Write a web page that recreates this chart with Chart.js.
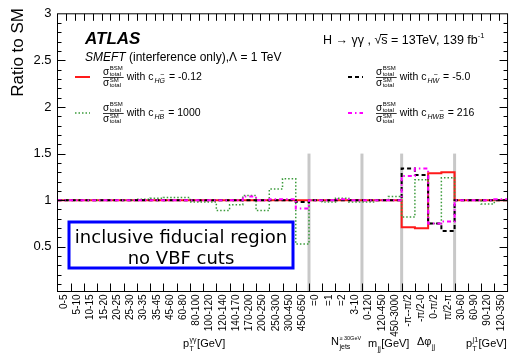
<!DOCTYPE html>
<html>
<head>
<meta charset="utf-8">
<script src="https://cdn.jsdelivr.net/npm/chart.js@4.4.0/dist/chart.umd.min.js"></script>
<style>
  html, body { margin: 0; padding: 0; background: #fff; }
  #wrap { width: 516px; height: 354px; }
</style>
</head>
<body>
<div id="wrap"><canvas id="ratio" width="516" height="354"></canvas></div>
<script>
// bins of the five observables, in plotting order
const binLabels = [
  '0-5', '5-10', '10-15', '15-20', '20-25', '25-30', '30-35', '35-45', '45-60', '60-80',
  '80-100', '100-120', '120-140', '140-170', '170-200', '200-250', '250-300', '300-450', '450-650',
  '=0', '=1', '=2', '3-10',
  '0-120', '120-450', '450-3000',
  '-π--π/2', '-π/2-0', '0-π/2', 'π/2-π',
  '30-60', '60-90', '90-120', '120-350'
];
// bin index where each new observable starts
const groupEdges = [19, 23, 26, 30];
const groupLineTop = 1.5;

// sigma_BSM / sigma_SM per bin
const ratioHG  = [1.00, 1.00, 1.00, 1.00, 1.00, 1.00, 1.00, 1.00, 1.00, 1.00,
                  1.00, 1.00, 1.00, 1.00, 1.00, 1.00, 1.00, 1.00, 1.00,
                  1.00, 1.00, 1.00, 1.00,
                  1.00, 1.00, 1.00,
                  0.71, 0.70, 1.29, 1.30,
                  1.00, 1.00, 1.00, 1.00];
const ratioHB  = [1.00, 1.00, 1.00, 1.00, 1.00, 1.00, 1.01, 1.02, 1.03, 1.03,
                  0.98, 0.98, 0.89, 0.95, 1.05, 0.89, 1.12, 1.23, 0.53,
                  1.00, 0.98, 1.02, 0.98,
                  0.98, 1.00, 1.04,
                  0.82, 1.22, 0.75, 1.24,
                  1.00, 1.00, 0.96, 1.00];
const ratioHW  = [1.00, 1.00, 1.00, 1.00, 1.00, 1.00, 1.00, 1.00, 1.00, 1.00,
                  1.00, 1.00, 1.00, 1.00, 1.00, 1.00, 1.00, 1.00, 0.98,
                  1.00, 1.00, 1.00, 1.00,
                  1.00, 1.00, 1.00,
                  1.34, 1.27, 0.75, 0.67,
                  1.00, 1.00, 1.00, 1.00];
const ratioHWB = [1.00, 1.00, 1.00, 1.00, 1.00, 1.00, 1.00, 1.00, 1.00, 1.00,
                  1.00, 1.00, 1.00, 1.00, 1.04, 1.00, 1.01, 1.01, 0.91,
                  1.00, 1.00, 1.01, 1.00,
                  1.00, 1.00, 1.00,
                  1.26, 1.34, 0.75, 0.77,
                  1.00, 1.00, 1.00, 1.01];

const yTicks = [0.5, 1, 1.5, 2, 2.5, 3];

const SANS = '"Liberation Sans", Arial, Helvetica, sans-serif';

// histogram outline: bin i spans [i, i+1]
const toSteps = vals => vals.map((v, i) => ({ x: i, y: v })).concat([{ x: vals.length, y: vals[vals.length - 1] }]);

const series = [
  { data: ratioHG,  color: '#ff1a1a', dash: [],             width: 2,   order: 4 },
  { data: ratioHB,  color: '#3a9a3a', dash: [1.5, 2],       width: 1.5, order: 3 },
  { data: ratioHW,  color: '#000000', dash: [4, 3],         width: 2,   order: 2 },
  { data: ratioHWB, color: '#ff00ff', dash: [4, 3, 1.5, 3], width: 2,   order: 1 },
];

function txt(ctx, s, x, y, size, o = {}) {
  ctx.font = `${o.italic ? 'italic ' : ''}${o.bold ? 'bold ' : ''}${size}px ${o.family || SANS}`;
  ctx.textAlign = o.align || 'left';
  ctx.textBaseline = 'alphabetic';
  ctx.fillStyle = o.color || '#000';
  ctx.fillText(s, x, y);
  return ctx.measureText(s).width;
}

// sigma_total^BSM / sigma_total^SM, bar at yb
function sigmaFrac(ctx, x, yb) {
  const w = txt(ctx, 'σ', x, yb - 2, 10);
  const w1 = txt(ctx, 'BSM', x + w + 0.5, yb - 7, 6);
  txt(ctx, 'total', x + w + 0.5, yb - 1.5, 6);
  txt(ctx, 'σ', x, yb + 8.5, 10);
  txt(ctx, 'SM', x + w + 0.5, yb + 4.5, 6);
  txt(ctx, 'total', x + w + 0.5, yb + 10, 6);
  const len = w + Math.max(w1, 12) + 1.5;
  ctx.strokeStyle = '#000'; ctx.lineWidth = 0.8;
  ctx.beginPath(); ctx.moveTo(x, yb + 0.5); ctx.lineTo(x + len, yb + 0.5); ctx.stroke();
  return len;
}

// "with c_{H...} = value", last subscript letter carries a tilde
function coeffText(ctx, x, y, sub, value) {
  let cx = x + txt(ctx, 'with c', x, y, 10.5);
  const head = sub.slice(0, -1), last = sub.slice(-1);
  cx += txt(ctx, head, cx + 1, y + 3, 7, { italic: true });
  const lw = txt(ctx, last, cx + 1, y + 3, 7, { italic: true });
  txt(ctx, '~', cx + 1 + lw / 2, y - 3, 7, { align: 'center' });
  cx += lw + 2;
  txt(ctx, ' = ' + value, cx, y, 10.5);
}

function legendRow(ctx, x, yb, color, dash, width, sub, value) {
  ctx.save();
  ctx.strokeStyle = color; ctx.lineWidth = width; ctx.setLineDash(dash);
  ctx.beginPath(); ctx.moveTo(x, yb); ctx.lineTo(x + 15, yb); ctx.stroke();
  ctx.restore();
  const fw = sigmaFrac(ctx, x + 28, yb);
  coeffText(ctx, x + 28 + fw + 3, yb + 3, sub, value);
}

// axis group titles: base, subscript, superscript, tail
function groupTitle(ctx, x, y, base, sub, sup, tail, supSize = 7) {
  let cx = x + txt(ctx, base, x, y, 11);
  const ws = sub ? txt(ctx, sub, cx + 0.5, y + 3.5, 7) : 0;
  const wp = sup ? txt(ctx, sup, cx + 0.5, y - 5, supSize) : 0;
  cx += Math.max(ws, wp) + 1;
  if (tail) txt(ctx, tail, cx, y, 11);
}

const decor = {
  id: 'decor',
  beforeDatasetsDraw(chart) {
    const { ctx, chartArea: a, scales: { x, y } } = chart;
    ctx.save();
    ctx.strokeStyle = '#c8c8c8'; ctx.lineWidth = 3;
    groupEdges.forEach(e => {
      const px = x.getPixelForValue(e);
      ctx.beginPath(); ctx.moveTo(px, y.getPixelForValue(groupLineTop)); ctx.lineTo(px, a.bottom); ctx.stroke();
    });
    ctx.restore();
  },
  afterDatasetsDraw(chart) {
    const { ctx, chartArea: a, scales: { x, y } } = chart;
    ctx.save();
    // frame
    ctx.strokeStyle = '#000'; ctx.lineWidth = 1;
    ctx.strokeRect(a.left, a.top, a.right - a.left, a.bottom - a.top);
    ctx.beginPath();
    // bottom ticks on bin edges
    for (let i = 1; i < binLabels.length; i++) {
      const px = Math.round(x.getPixelForValue(i)) + 0.5;
      ctx.moveTo(px, a.bottom); ctx.lineTo(px, a.bottom - 8);
    }
    // top ticks
    for (let k = 1; k < 51; k++) {
      const px = Math.round(a.left + k * (a.right - a.left) / 51) + 0.5;
      ctx.moveTo(px, a.top); ctx.lineTo(px, a.top + 7);
    }
    // left / right ticks
    for (let v = 0.1; v < 3; v += 0.1) {
      const major = Math.abs(v * 2 - Math.round(v * 2)) < 1e-6;
      const py = Math.round(y.getPixelForValue(v)) + 0.5;
      const l = major ? 8 : 4;
      ctx.moveTo(a.left, py); ctx.lineTo(a.left + l, py);
      ctx.moveTo(a.right, py); ctx.lineTo(a.right - l, py);
    }
    ctx.stroke();

    // region box
    ctx.fillStyle = '#fff';
    ctx.fillRect(69, 222, 224, 46);
    ctx.strokeStyle = '#0000ff'; ctx.lineWidth = 3;
    ctx.strokeRect(69, 222, 224, 46);
    txt(ctx, 'inclusive fiducial region', 181, 243, 18, { align: 'center', family: '"DejaVu Sans", sans-serif' });
    txt(ctx, 'no VBF cuts', 181, 264, 18, { align: 'center', family: '"DejaVu Sans", sans-serif' });

    // headers
    txt(ctx, 'ATLAS', 85, 44, 17, { bold: true, italic: true });
    const cx = 85 + txt(ctx, 'SMEFT', 85, 61, 12, { italic: true });
    txt(ctx, ' (interference only),Λ = 1 TeV', cx, 61, 12);
    const head = 'H → γγ , √s = 13TeV, 139 fb';
    const hw = txt(ctx, head, 323, 44, 12.5);
    txt(ctx, '-1', 323 + hw, 38, 7.5);
    ctx.font = `12.5px ${SANS}`;
    const sx = 323 + ctx.measureText('H → γγ , √').width;
    const sw = ctx.measureText('s').width;
    ctx.strokeStyle = '#000'; ctx.lineWidth = 1;
    ctx.beginPath(); ctx.moveTo(sx - 1, 34.5); ctx.lineTo(sx + sw, 34.5); ctx.stroke();

    // legend
    legendRow(ctx, 75, 77, series[0].color, series[0].dash, 2, 'HG', '-0.12');
    legendRow(ctx, 75, 113, series[1].color, series[1].dash, 1.5, 'HB', '1000');
    legendRow(ctx, 348, 77, series[2].color, series[2].dash, 2, 'HW', '-5.0');
    legendRow(ctx, 348, 113, series[3].color, series[3].dash, 2, 'HWB', '216');

    // observable titles under the bin labels
    groupTitle(ctx, 331, 345, 'N', 'jets', '≥ 30GeV', '', 5.5);
    groupTitle(ctx, 183, 347, 'p', 'T', 'γγ', '[GeV]');
    groupTitle(ctx, 368, 347, 'm', 'jj', '', '[GeV]');
    groupTitle(ctx, 417, 345, 'Δφ', 'jj', '', '');
    groupTitle(ctx, 466, 347, 'p', 'T', 'j1', '[GeV]');

    // y axis title
    ctx.translate(23, 8);
    ctx.rotate(-Math.PI / 2);
    txt(ctx, 'Ratio to SM', 0, 0, 17, { align: 'right' });
    ctx.restore();
  }
};

new Chart(document.getElementById('ratio'), {
  type: 'line',
  data: {
    datasets: series.map(s => ({
      data: toSteps(s.data),
      borderColor: s.color,
      borderWidth: s.width,
      borderDash: s.dash,
      stepped: true,
      pointRadius: 0,
      fill: false,
      order: s.order,
    })),
  },
  options: {
    responsive: false,
    animation: false,
    devicePixelRatio: 1,
    layout: { padding: { left: 0, right: 4.5, top: 10, bottom: 0 } },
    plugins: { legend: { display: false }, tooltip: { enabled: false } },
    scales: {
      x: {
        type: 'linear', min: 0, max: binLabels.length,
        grid: { display: false, drawTicks: false }, border: { display: false },
        afterBuildTicks: s => { s.ticks = binLabels.map((_, i) => ({ value: i + 0.5 })); },
        afterFit: s => { s.height = 62.5; },
        ticks: {
          autoSkip: false, minRotation: 90, maxRotation: 90, padding: 3,
          color: '#000', font: { family: SANS, size: 10 },
          callback: (v, i) => binLabels[i],
        },
      },
      y: {
        min: 0.02, max: 3,
        grid: { display: false, drawTicks: false }, border: { display: false },
        afterBuildTicks: s => { s.ticks = yTicks.map(v => ({ value: v })); },
        afterFit: s => { s.width = 57.5; },
        ticks: { padding: 6, color: '#000', font: { family: SANS, size: 13 }, callback: v => String(v) },
      },
    },
  },
  plugins: [decor],
});
</script>
</body>
</html>
